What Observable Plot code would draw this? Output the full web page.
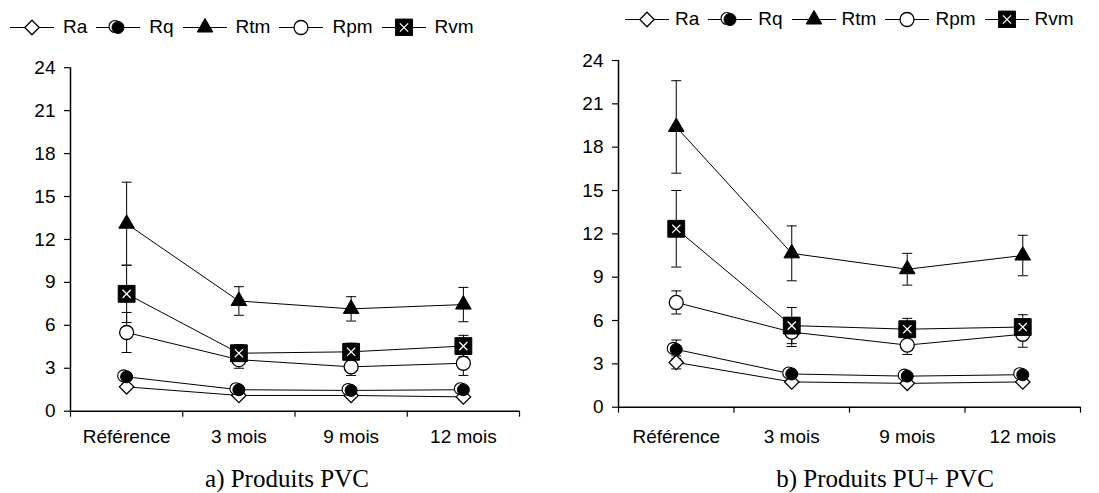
<!DOCTYPE html>
<html><head><meta charset="utf-8">
<script src="https://cdn.jsdelivr.net/npm/d3@7"></script>
<script src="https://cdn.jsdelivr.net/npm/@observablehq/plot@0.6"></script>
<style>
body{margin:0;background:#fff;}
#root{position:relative;width:1099px;height:493px;overflow:hidden;background:#fff;font-family:"Liberation Sans",Arial,sans-serif;color:#000;}
.panel{position:absolute;}
.legend{position:absolute;display:flex;align-items:center;font-size:19px;line-height:19px;white-space:nowrap;}
.legend .item{display:flex;align-items:center;}
.legend svg{display:block;}
.caption{position:absolute;width:400px;text-align:center;font-family:"Liberation Serif","Times New Roman",serif;font-size:25px;line-height:25px;white-space:nowrap;}
</style></head><body><div id="root"></div>
<script>
// ---- data ----
const categories = ["Référence", "3 mois", "9 mois", "12 mois"];
const seriesNames = ["Ra", "Rq", "Rtm", "Rpm", "Rvm"];
const yTicks = [0, 3, 6, 9, 12, 15, 18, 21, 24];
const captions = ["a) Produits PVC", "b) Produits PU+ PVC"];

// a) Produits PVC : means
const pvcRa  = [1.7, 1.1, 1.1, 1.0];
const pvcRq  = [2.4, 1.5, 1.45, 1.5];
const pvcRtm = [13.1, 7.7, 7.15, 7.45];
const pvcRpm = [5.5, 3.6, 3.1, 3.35];
const pvcRvm = [8.2, 4.05, 4.15, 4.55];
// a) Produits PVC : error (half-width)
const pvcRaErr  = [0.2, 0.1, 0.1, 0.1];
const pvcRqErr  = [0.2, 0.15, 0.15, 0.15];
const pvcRtmErr = [2.9, 1.0, 0.85, 1.2];
const pvcRvmErr = [2.0, 0.6, 0.6, 0.75];
const pvcRpmErr = [1.4, 0.6, 0.6, 0.85];

// b) Produits PU+ PVC : means
const puRa  = [3.1, 1.75, 1.65, 1.75];
const puRq  = [4.0, 2.3, 2.15, 2.25];
const puRtm = [19.4, 10.65, 9.55, 10.5];
const puRpm = [7.25, 5.2, 4.3, 5.05];
const puRvm = [12.35, 5.65, 5.4, 5.55];
// b) Produits PU+ PVC : error (half-width)
const puRaErr  = [0.45, 0.15, 0.15, 0.15];
const puRqErr  = [0.65, 0.2, 0.2, 0.2];
const puRtmErr = [3.2, 1.9, 1.1, 1.4];
const puRvmErr = [2.65, 1.25, 0.75, 0.85];
const puRpmErr = [0.8, 1.0, 0.65, 0.9];

// ---- styles ----
const markerDefs = {
  Ra:  [{symbol: "diamond2", r: 6.5, fill: "white", stroke: "black", strokeWidth: 1.3}],
  Rq:  [{symbol: "circle", r: 6, fill: "white", stroke: "black", strokeWidth: 1.1, dx: -3, dy: -1},
        {symbol: "circle", r: 6, fill: "black", stroke: "black", strokeWidth: 1}],
  Rtm: [{symbol: "triangle", r: 5.8, fill: "black", stroke: "black", strokeWidth: 1}],
  Rpm: [{symbol: "circle", r: 7, fill: "white", stroke: "black", strokeWidth: 1.3}],
  Rvm: [{symbol: "square", r: 9.5, fill: "black", stroke: "black", strokeWidth: 1},
        {symbol: "times", r: 3.8, fill: "none", stroke: "white", strokeWidth: 1.3}]
};
const d3Sym = {diamond2: d3.symbolDiamond2, circle: d3.symbolCircle, triangle: d3.symbolTriangle, square: d3.symbolSquare, times: d3.symbolTimes};
const capSymbol = {draw(ctx, size) { const w = Math.sqrt(size / Math.PI); ctx.moveTo(-w, 0); ctx.lineTo(w, 0); }};

const root = document.getElementById("root");

function panel(vals, errs, cfg) {
  const rows = [];
  seriesNames.forEach(s => categories.forEach((c, ci) => {
    rows.push({series: s, cat: c, x: ci + 0.5, v: vals[s][ci], e: errs[s][ci]});
  }));
  const marks = [
    Plot.axisY({ticks: yTicks, tickSize: 6, tickPadding: 9, fontSize: 19, stroke: "black", strokeWidth: 1.2, label: null}),
    Plot.axisX({ticks: [0, 1, 2, 3, 4], tickSize: 6, tickFormat: () => "", stroke: "black", strokeWidth: 1.2, label: null}),
    Plot.axisX({ticks: [0.5, 1.5, 2.5, 3.5], tickSize: 0, tickPadding: cfg.labelPad, fontSize: 19, label: null,
                tickFormat: d => categories[Math.floor(d)]}),
    Plot.ruleX([0], {y1: 0, y2: 24, stroke: "black", strokeWidth: 1.5}),
    Plot.ruleY([0], {x1: 0, x2: 4, stroke: "black", strokeWidth: 1.5}),
    Plot.line(rows, {x: "x", y: "v", z: "series", stroke: "black", strokeWidth: 1}),
    Plot.ruleX(rows, {x: "x", y1: d => d.v - d.e, y2: d => d.v + d.e, stroke: "black", strokeWidth: 1}),
    Plot.dot(rows, {x: "x", y: d => d.v + d.e, symbol: capSymbol, r: 5, fill: "none", stroke: "black", strokeWidth: 1}),
    Plot.dot(rows, {x: "x", y: d => d.v - d.e, symbol: capSymbol, r: 5, fill: "none", stroke: "black", strokeWidth: 1})
  ];
  seriesNames.forEach(s => {
    markerDefs[s].forEach(m => {
      marks.push(Plot.dot(rows.filter(d => d.series === s), {x: "x", y: "v", ...m}));
    });
  });
  const chart = Plot.plot({
    width: cfg.width, height: cfg.height,
    marginLeft: cfg.ml, marginRight: cfg.mr, marginTop: cfg.mt, marginBottom: cfg.mb,
    x: {type: "linear", domain: [0, 4], label: null},
    y: {domain: [0, 24], label: null},
    style: {fontFamily: '"Liberation Sans", Arial, sans-serif', fontSize: "19px", color: "black", background: "white", overflow: "visible"},
    marks
  });
  const div = document.createElement("div");
  div.className = "panel";
  div.style.left = cfg.left + "px";
  div.style.top = cfg.top + "px";
  div.appendChild(chart);
  root.appendChild(div);
}

function legend(cfg) {
  const lg = document.createElement("div");
  lg.className = "legend";
  lg.style.left = cfg.left + "px";
  lg.style.top = cfg.top + "px";
  seriesNames.forEach((s, i) => {
    const item = document.createElement("div");
    item.className = "item";
    item.style.marginRight = (i < seriesNames.length - 1 ? cfg.after : 0) + "px";
    const sw = 44, cy = 10.5;
    const svg = d3.create("svg").attr("width", sw).attr("height", 19);
    svg.append("line").attr("x1", 0).attr("x2", sw).attr("y1", cy).attr("y2", cy).attr("stroke", "black").attr("stroke-width", 1);
    markerDefs[s].forEach(m => {
      svg.append("path")
        .attr("transform", `translate(${sw / 2 + (m.dx || 0)},${cy + (m.dy || 0)})`)
        .attr("d", d3.symbol(d3Sym[m.symbol], Math.PI * m.r * m.r)())
        .attr("fill", m.fill).attr("stroke", m.stroke).attr("stroke-width", m.strokeWidth);
    });
    item.appendChild(svg.node());
    const t = document.createElement("span");
    t.textContent = s;
    t.style.marginLeft = cfg.gap + "px";
    item.appendChild(t);
    lg.appendChild(item);
  });
  root.appendChild(lg);
}

function caption(text, cx) {
  const c = document.createElement("div");
  c.className = "caption";
  c.textContent = text;
  c.style.left = (cx - 200) + "px";
  c.style.top = "466px";
  root.appendChild(c);
}

panel({Ra: pvcRa, Rq: pvcRq, Rtm: pvcRtm, Rpm: pvcRpm, Rvm: pvcRvm},
      {Ra: pvcRaErr, Rq: pvcRqErr, Rtm: pvcRtmErr, Rpm: pvcRpmErr, Rvm: pvcRvmErr},
      {left: 0, top: 40, width: 540, height: 420, ml: 70, mr: 21, mt: 27.2, mb: 49.3, labelPad: 18});
panel({Ra: puRa, Rq: puRq, Rtm: puRtm, Rpm: puRpm, Rvm: puRvm},
      {Ra: puRaErr, Rq: puRqErr, Rtm: puRtmErr, Rpm: puRpmErr, Rvm: puRvmErr},
      {left: 550, top: 40, width: 549, height: 420, ml: 68, mr: 19, mt: 20, mb: 53.3, labelPad: 22});

legend({left: 10, top: 17, gap: 9, after: 9});
legend({left: 625, top: 9, gap: 6, after: 9});

caption(captions[0], 287);
caption(captions[1], 885);
</script></body></html>
